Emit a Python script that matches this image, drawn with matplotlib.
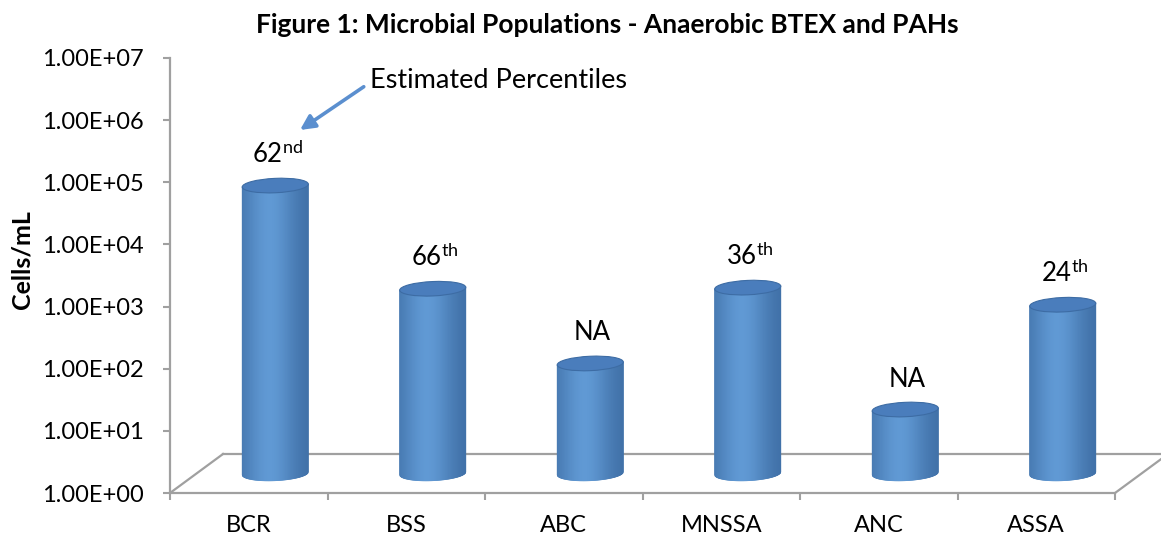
import numpy as np
import matplotlib
matplotlib.use("Agg")
import matplotlib.pyplot as plt
import matplotlib.transforms as mtransforms
from matplotlib.patches import Polygon, Ellipse
from matplotlib.lines import Line2D
from matplotlib.ticker import FuncFormatter, NullLocator

# ---- data -------------------------------------------------------------
categories = ["BCR", "BSS", "ABC", "MNSSA", "ANC", "ASSA"]
cells_per_ml = [4.3e4, 9.4e2, 5.9e1, 9.8e2, 1.07e1, 5.2e2]
percentile_labels = ["62$^{\\rm nd}$", "66$^{\\rm th}$", "NA",
                     "36$^{\\rm th}$", "NA", "24$^{\\rm th}$"]
y_ticks = [1e0, 1e1, 1e2, 1e3, 1e4, 1e5, 1e6, 1e7]

# ---- style ------------------------------------------------------------
plt.rcParams["font.family"] = ["Lato", "DejaVu Sans"]
plt.rcParams["mathtext.fontset"] = "custom"
plt.rcParams["mathtext.rm"] = "Lato"
plt.rcParams["mathtext.it"] = "Lato:italic"
plt.rcParams["mathtext.bf"] = "Lato:bold"

GRAY = "#a0a0a0"
DARK = np.array([0x38, 0x66, 0x9c]) / 255
LIGHT = np.array([0x60, 0x99, 0xd4]) / 255
TOP_FACE = "#4a7dbc"
TOP_EDGE = "#3d6ca4"
ARROW = "#5b8fcf"

DPI = 100
W, H = 1161, 539
fig = plt.figure(figsize=(W / DPI, H / DPI), dpi=DPI)
fig.patch.set_facecolor("white")

# front plane of the plot box, in pixels
left_px, right_px, base_px, top_px = 170, 1115, 493, 58
ax = fig.add_axes([left_px / W, (H - base_px) / H,
                   (right_px - left_px) / W, (base_px - top_px) / H])
ax.set_facecolor("none")
ax.set_yscale("log")
ax.set_ylim(1, 1e7)
ax.set_xlim(-0.5, len(categories) - 0.5)

# depth of the floor (pixels) and the mid-depth plane where bars stand
DEPTH_X, DEPTH_Y = 53, 39
DX, DY = DEPTH_X / 2, DEPTH_Y / 2

for side in ("top", "right"):
    ax.spines[side].set_visible(False)
for side in ("left", "bottom"):
    ax.spines[side].set_color(GRAY)
    ax.spines[side].set_linewidth(1.6)

ax.set_yticks(y_ticks)
ax.yaxis.set_minor_locator(NullLocator())
ax.yaxis.set_major_formatter(FuncFormatter(lambda v, _: f"{v:.2E}"))
ax.tick_params(axis="y", which="major", direction="out", length=5,
               width=1.5, color=GRAY, pad=14, labelsize=17, labelcolor="black")

ax.set_xticks(range(len(categories)))
ax.set_xticklabels(categories)
ax.set_xticks(np.arange(-0.5, len(categories)), minor=True)
ax.tick_params(axis="x", which="major", length=0, pad=16, labelsize=17)
ax.tick_params(axis="x", which="minor", direction="out", length=5,
               width=1.5, color=GRAY)

# floor outline (back edge and the two receding sides)
dxa = DEPTH_X / (right_px - left_px)
dya = DEPTH_Y / (base_px - top_px)
for xs, ys in (([0, dxa], [0, dya]),
               ([dxa, 1 + dxa], [dya, dya]),
               ([1, 1 + dxa], [0, dya])):
    ax.add_line(Line2D(xs, ys, transform=ax.transAxes, color=GRAY,
                       lw=1.6, clip_on=False, zorder=1))

ident = mtransforms.IdentityTransform()


def shade_color(t):
    # cylinder shading: highlight a little left of centre, dark at the rims
    s = np.exp(-((t - 0.42) / 0.40) ** 2)
    s = 0.12 + 0.88 * s
    return DARK + (LIGHT - DARK) * s


def draw_cylinder(x, value, width=0.42, n=120):
    to_px = ax.transData.transform
    x0, y0 = to_px((x - width / 2, 1.0))
    x1, y1 = to_px((x + width / 2, value))
    x0 += DX
    x1 += DX
    y0 += DY
    y1 += DY
    cx = (x0 + x1) / 2
    a = (x1 - x0) / 2
    b = 7.2
    k = 0.045  # slight tilt of the ellipses
    edges = np.linspace(-1, 1, n + 1)
    for i in range(n):
        t0, t1 = edges[i], edges[i + 1]
        xa, xb = cx + a * t0, cx + a * t1
        yb0 = y0 - b * np.sqrt(max(0.0, 1 - t0 ** 2)) + k * a * t0
        yb1 = y0 - b * np.sqrt(max(0.0, 1 - t1 ** 2)) + k * a * t1
        yt0 = y1 + k * a * t0
        yt1 = y1 + k * a * t1
        c = shade_color((t0 + t1) / 4 + 0.5)
        ax.add_patch(Polygon([(xa, yb0), (xb, yb1), (xb, yt1), (xa, yt0)],
                             closed=True, transform=ident, facecolor=c,
                             edgecolor=c, lw=0.5, clip_on=False, zorder=3))
    ax.add_patch(Ellipse((cx, y1), 2 * a, 2 * b,
                         angle=np.degrees(np.arctan(k)), transform=ident,
                         facecolor=TOP_FACE, edgecolor=TOP_EDGE, lw=0.8,
                         clip_on=False, zorder=4))


for i, v in enumerate(cells_per_ml):
    draw_cylinder(i, v)
    ax.annotate(percentile_labels[i], xy=(i, v),
                xytext=(DX + 2, DY + 23), textcoords="offset pixels",
                ha="center", va="baseline", fontsize=18.5, zorder=5)

# callout pointing at the first percentile label
ax.annotate("Estimated Percentiles",
            xy=((300 - left_px) / (right_px - left_px),
                (base_px - 130) / (base_px - top_px)),
            xycoords="axes fraction",
            xytext=((370 - left_px) / (right_px - left_px),
                    (base_px - 80) / (base_px - top_px)),
            textcoords="axes fraction", ha="left", va="center", fontsize=19.5,
            arrowprops=dict(arrowstyle="-|>", color=ARROW, lw=2.6,
                            mutation_scale=22, shrinkA=3, shrinkB=0,
                            relpos=(0, 0.4)))

fig.text(22 / W, 1 - 260 / H, "Cells/mL", rotation=90, ha="center",
         va="center", fontsize=18, fontweight="bold")
fig.text(607 / W, 1 - 25 / H,
         "Figure 1: Microbial Populations - Anaerobic BTEX and PAHs",
         ha="center", va="center", fontsize=19, fontweight="bold")

fig.savefig("out.png", dpi=DPI, facecolor="white")
